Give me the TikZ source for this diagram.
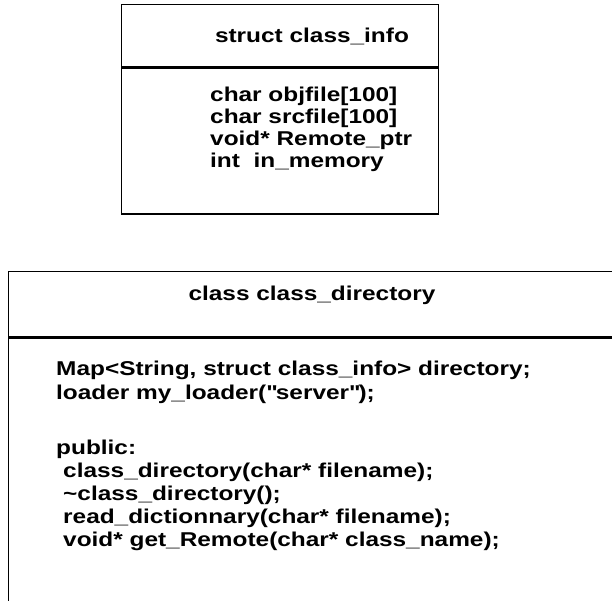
\documentclass[tikz,border=0pt]{standalone}
\usepackage{fontspec}
\setmainfont{Liberation Sans}[FakeStretch=1.22]
\usetikzlibrary{positioning}

\begin{document}
\begin{tikzpicture}[x=1pt, y=-1pt,
        box/.style={draw, line width=1.3pt, inner sep=0pt, anchor=north west},
        txt/.style={font=\bfseries\fontsize{20}{22}\selectfont, inner sep=0pt}]
        \useasboundingbox (0,0) rectangle (612,601);

        % struct class_info.
        \node[box, minimum width=317pt, minimum height=62pt] (infohead) at (121,4) {};
        \node[box, minimum width=317pt, minimum height=146pt] (infobody) at (infohead.south west) {};
        \node[txt, anchor=base] (infoname) at (312,43) {struct class\_info};
        \foreach \member [count=\i] in {{char objfile[100]}, {char srcfile[100]}, {void* Remote\_ptr}, {int\ \ in\_memory}}
            \node[txt, anchor=base west] (info\i) at (210, 80+22*\i) {\member};

        % class class_directory.
        \node[box, minimum width=608pt, minimum height=65pt] (dirhead) at (8,271) {};
        \node[box, minimum width=608pt, minimum height=264pt] (dirbody) at (dirhead.south west) {};
        \node[txt, anchor=base] (dirname) at (312,300) {class class\_directory};
        \node[txt, anchor=base west] (dir1) at (56,375) {Map<String, struct class\_info> directory;};
        \node[txt, anchor=base west] (dir2) at (56,399) {loader my\_loader(\textquotedbl server\textquotedbl);};
        \node[txt, anchor=base west] (dir3) at (56,454) {public:};
        \foreach \method [count=\i] in {{class\_directory(char* filename);}, {\textasciitilde class\_directory();}, {read\_dictionnary(char* filename);}, {void* get\_Remote(char* class\_name);}}
            \node[txt, anchor=base west] (meth\i) at (63, 454+23*\i) {\method};
\end{tikzpicture}
\end{document}
